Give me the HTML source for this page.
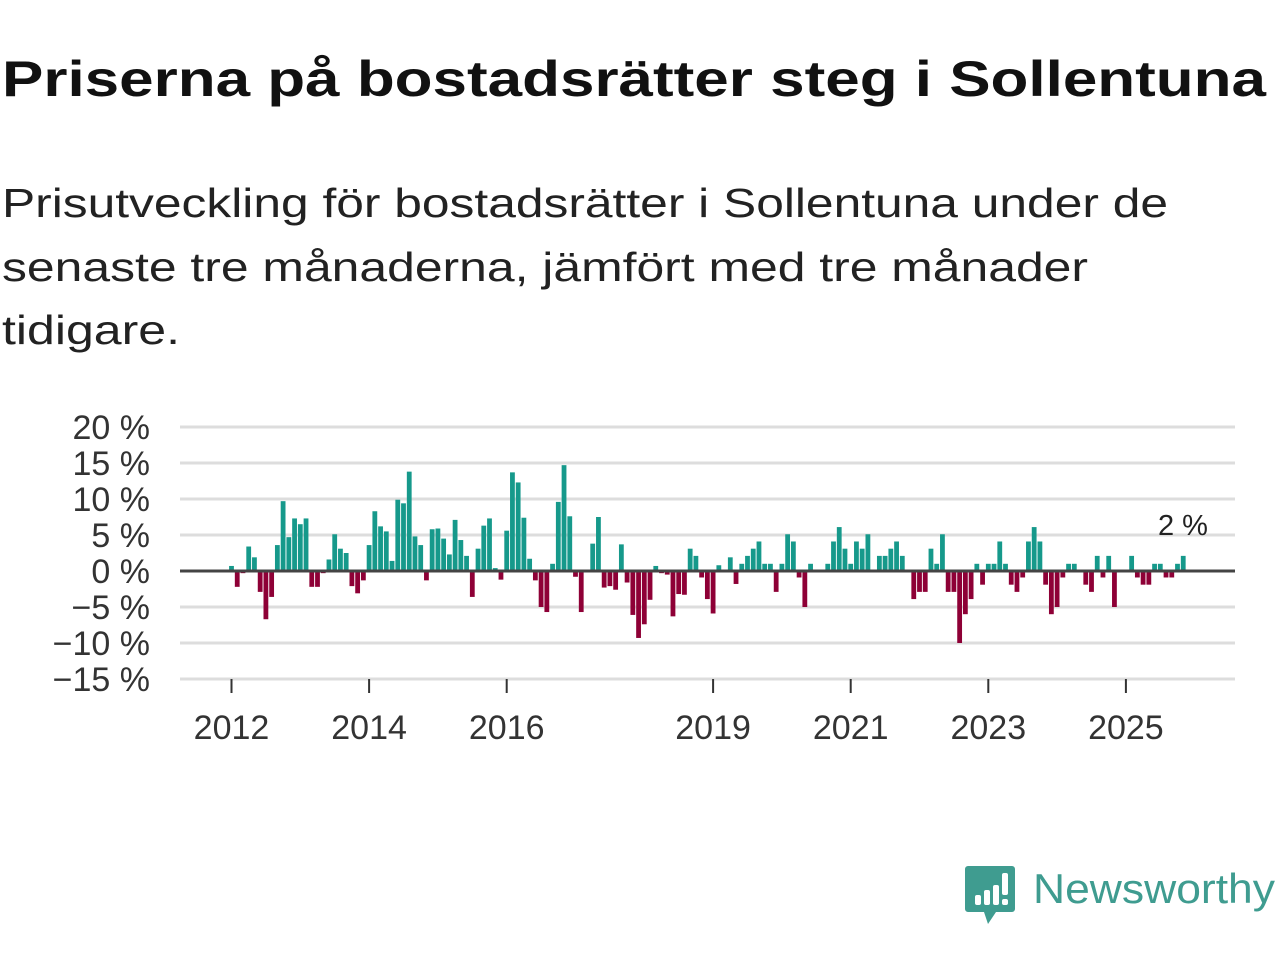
<!DOCTYPE html>
<html><head><meta charset="utf-8"><style>
html,body{margin:0;padding:0;background:#fff;width:1280px;height:960px;overflow:hidden}
svg{display:block;font-family:"Liberation Sans",sans-serif}
</style></head><body>
<svg id="chart" width="1280" height="960" viewBox="0 0 1280 960">
<text x="2" y="96" font-size="50" font-weight="bold" fill="#111" textLength="1264" lengthAdjust="spacingAndGlyphs">Priserna på bostadsrätter steg i Sollentuna</text>
<g font-size="41" fill="#222">
<text x="2" y="217" textLength="1166" lengthAdjust="spacingAndGlyphs">Prisutveckling för bostadsrätter i Sollentuna under de</text>
<text x="2" y="281" textLength="1086" lengthAdjust="spacingAndGlyphs">senaste tre månaderna, jämfört med tre månader</text>
<text x="2" y="344" textLength="178" lengthAdjust="spacingAndGlyphs">tidigare.</text>
</g>
<g id="grid"></g>
<g id="yticks"></g>
<g id="xticks"></g>
<g id="bars"></g>
<line x1="180" x2="1235" y1="571" y2="571" stroke="#444" stroke-width="3"/>
<text id="lastlabel" x="1183" y="535" font-size="29" text-anchor="middle" fill="#222">2 %</text>
<g>
<path d="M968 866 h44 a3 3 0 0 1 3 3 v40 a3 3 0 0 1 -3 3 h-16 l-8 12 l-4 -12 h-16 a3 3 0 0 1 -3 -3 v-40 a3 3 0 0 1 3 -3z" fill="#3f9c90"/>
<rect x="975" y="895" width="6" height="10" rx="2" fill="#fff"/>
<rect x="984" y="890" width="6" height="15" rx="2" fill="#fff"/>
<rect x="993" y="885" width="6" height="20" rx="2" fill="#fff"/>
<rect x="1002" y="873" width="6" height="22" rx="2" fill="#fff"/>
<rect x="1002" y="899" width="6" height="6" rx="2" fill="#fff"/>
<text x="1033" y="903" font-size="42" fill="#3f9c90" textLength="242" lengthAdjust="spacingAndGlyphs">Newsworthy</text>
</g>
</svg>
<script>
const values = [0.7,-2.2,-0.3,3.4,1.9,-2.9,-6.7,-3.6,3.6,9.7,4.7,7.3,6.5,7.3,-2.2,-2.2,-0.3,1.6,5.1,3.1,2.5,-2.1,-3.1,-1.3,3.6,8.3,6.2,5.5,1.4,9.9,9.4,13.8,4.8,3.6,-1.3,5.8,5.9,4.5,2.3,7.1,4.3,2.1,-3.6,3.1,6.3,7.3,0.4,-1.2,5.6,13.7,12.3,7.4,1.7,-1.3,-5.0,-5.7,1.0,9.6,14.7,7.6,-0.8,-5.7,0,3.8,7.5,-2.3,-2.1,-2.6,3.7,-1.6,-6.1,-9.3,-7.4,-4.0,0.7,-0.3,-0.5,-6.3,-3.2,-3.3,3.1,2.1,-0.9,-3.9,-5.9,0.8,0,1.9,-1.8,1.0,2.1,3.1,4.1,1.0,1.0,-2.9,1.0,5.1,4.1,-0.9,-5.0,1.0,0,0,1.0,4.1,6.1,3.1,1.0,4.1,3.1,5.1,0,2.1,2.1,3.1,4.1,2.1,0,-3.9,-2.9,-2.9,3.1,1.0,5.1,-2.9,-2.9,-10.0,-6.0,-3.9,1.0,-1.9,1.0,1.0,4.1,1.0,-1.9,-2.9,-0.9,4.1,6.1,4.1,-1.9,-6.0,-5.0,-0.9,1.0,1.0,0,-1.9,-2.9,2.1,-0.9,2.1,-5.0,0,0,2.1,-0.9,-1.9,-1.9,1.0,1.0,-0.9,-0.9,1.0,2.1];
const yTicks = [20,15,10,5,0,-5,-10,-15];
const yTickLabels = ["20 %","15 %","10 %","5 %","0 %","\u22125 %","\u221210 %","\u221215 %"];
const xYears = [2012,2014,2016,2019,2021,2023,2025];
const startYear = 2012;
const NS="http://www.w3.org/2000/svg";
function y(v){return 571 - v*7.2;}
function x(monthIndex){return 231.5 + monthIndex*68.8/12;}
const grid=document.getElementById('grid'), yt=document.getElementById('yticks'), xt=document.getElementById('xticks'), bars=document.getElementById('bars');
yTicks.forEach((t,i)=>{
  const l=document.createElementNS(NS,'line');
  l.setAttribute('x1',180);l.setAttribute('x2',1235);l.setAttribute('y1',y(t));l.setAttribute('y2',y(t));
  l.setAttribute('stroke','#ddd');l.setAttribute('stroke-width','3');
  
  
  grid.appendChild(l);
  const tx=document.createElementNS(NS,'text');
  tx.setAttribute('x',150);tx.setAttribute('y',y(t)+12);tx.setAttribute('text-anchor','end');
  tx.setAttribute('font-size','34');tx.setAttribute('fill','#333');
  tx.textContent=yTickLabels[i];
  
  
  yt.appendChild(tx);
});
xYears.forEach(yr=>{
  const px=x((yr-startYear)*12);
  const l=document.createElementNS(NS,'line');
  l.setAttribute('x1',px);l.setAttribute('x2',px);l.setAttribute('y1',679);l.setAttribute('y2',693);
  l.setAttribute('stroke','#333');l.setAttribute('stroke-width','2');
  
  
  xt.appendChild(l);
  const tx=document.createElementNS(NS,'text');
  tx.setAttribute('x',px);tx.setAttribute('y',739);tx.setAttribute('text-anchor','middle');
  tx.setAttribute('font-size','34');tx.setAttribute('fill','#333');
  tx.textContent=yr;
  
  
  xt.appendChild(tx);
});
values.forEach((v,i)=>{
  if(v===0) return;
  const r=document.createElementNS(NS,'rect');
  const cx=x(i);
  r.setAttribute('x',cx-2.4);r.setAttribute('width',4.8);
  r.setAttribute('y',Math.min(y(v),y(0)));r.setAttribute('height',Math.abs(y(v)-y(0)));
  r.setAttribute('fill',v>0?'#16998b':'#8e0036');
  
  
  bars.appendChild(r);
});
</script>
</body></html>
